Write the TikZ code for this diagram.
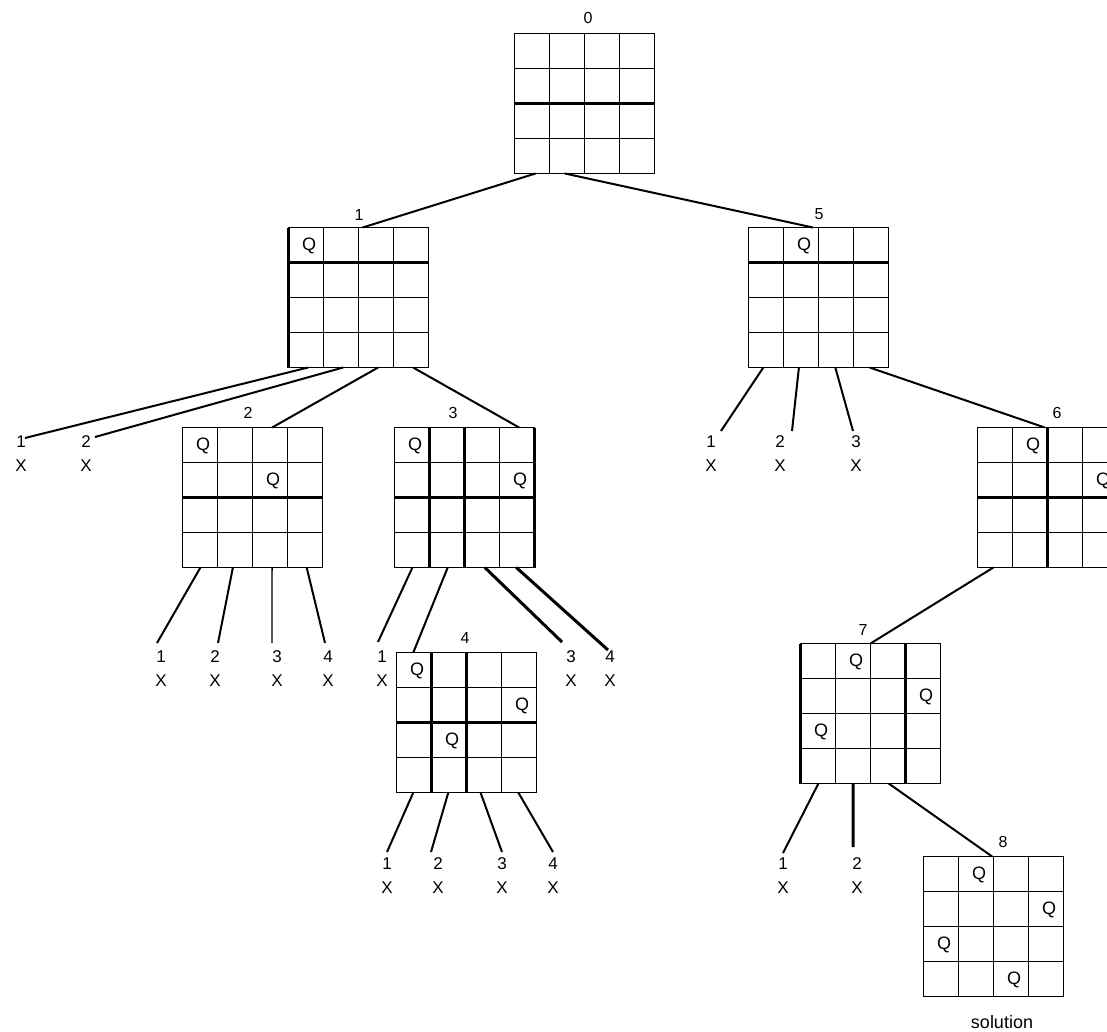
\documentclass[tikz,border=0pt]{standalone}
\usepackage{fontspec}
\setmainfont{Liberation Sans}
\usetikzlibrary{calc}
\tikzset{
  board/.style={draw, line width=1.3pt, minimum width=140pt, minimum height=140pt, inner sep=0pt, outer sep=0pt},
  gridline/.style={line width=1.3pt},
  thickgrid/.style={line width=3pt},
  conn/.style={line width=2pt},
  connthick/.style={line width=3pt},
  lbl/.style={font=\fontsize{16}{18}\selectfont, inner sep=0pt},
  qtext/.style={font=\fontsize{18}{20}\selectfont, inner sep=0pt},
  leaf/.style={font=\fontsize{17}{24}\selectfont, inner sep=0pt, align=center},
}
\newcommand\mkboard[3]{%
  \node[board] (#1) at (#2,#3) {};
  \foreach \i in {1,2,3}{
    \draw[gridline] ($(#1.north west)!{\i/4}!(#1.north east)$) -- ($(#1.south west)!{\i/4}!(#1.south east)$);
    \draw[gridline] ($(#1.north west)!{\i/4}!(#1.south west)$) -- ($(#1.north east)!{\i/4}!(#1.south east)$);
  }%
}
\newcommand\vthick[2]{\draw[thickgrid] ($(#1.north west)!{#2/4}!(#1.north east)$) -- ($(#1.south west)!{#2/4}!(#1.south east)$);}
\newcommand\hthick[2]{\draw[thickgrid] ($(#1.north west)!{#2/4}!(#1.south west)$) -- ($(#1.north east)!{#2/4}!(#1.south east)$);}
\newcommand\qn[3]{\node[qtext] (#1q#2#3) at ($(#1.north west)+({(#3-0.5)*35+3},{(#2-0.5)*35+1})$) {Q};}
\newcommand\bpt[2]{($(#1.south west)!#2!(#1.south east)$)}
\newcommand\tpt[2]{($(#1.north west)!#2!(#1.north east)$)}
\begin{document}
\begin{tikzpicture}[x=1pt, y=-1pt]
\useasboundingbox (0,0) rectangle (1107,1031);
\clip (0,0) rectangle (1107,1031);
\fill[white] (0,0) rectangle (1107,1031);

% boards
\mkboard{b0}{584.5}{103.5}
\mkboard{b1}{358.5}{297.5}
\mkboard{b5}{818.5}{297.5}
\mkboard{b2}{252.5}{497.5}
\mkboard{b3}{464.5}{497.5}
\mkboard{b4}{466.5}{722.5}
\mkboard{b6}{1047.5}{497.5}
\mkboard{b7}{870.5}{713.5}
\mkboard{b8}{993.5}{926.5}

% thick lines
\hthick{b0}{2}
\vthick{b1}{0}\hthick{b1}{1}
\hthick{b5}{1}
\hthick{b2}{2}
\vthick{b3}{1}\vthick{b3}{2}\vthick{b3}{4}\hthick{b3}{2}
\vthick{b4}{1}\vthick{b4}{2}\hthick{b4}{2}
\vthick{b6}{2}\hthick{b6}{2}
\vthick{b7}{0}\vthick{b7}{3}

% queens
\qn{b1}{1}{1}
\qn{b5}{1}{2}
\qn{b2}{1}{1}\qn{b2}{2}{3}
\qn{b3}{1}{1}\qn{b3}{2}{4}
\qn{b4}{1}{1}\qn{b4}{2}{4}\qn{b4}{3}{2}
\qn{b6}{1}{2}\qn{b6}{2}{4}
\qn{b7}{1}{2}\qn{b7}{2}{4}\qn{b7}{3}{1}
\qn{b8}{1}{2}\qn{b8}{2}{4}\qn{b8}{3}{1}\qn{b8}{4}{3}

% board labels
\node[lbl] (l0) at (588,18) {0};
\node[lbl] (l1) at (359,215) {1};
\node[lbl] (l5) at (819,214) {5};
\node[lbl] (l2) at (248,413) {2};
\node[lbl] (l3) at (453,413) {3};
\node[lbl] (l4) at (465,638) {4};
\node[lbl] (l6) at (1057,413) {6};
\node[lbl] (l7) at (863,630) {7};
\node[lbl] (l8) at (1003,842) {8};
\node[font=\fontsize{18}{20}\selectfont, inner sep=0pt] (sol) at (1002,1022.5) {solution};

% leaves
\node[leaf] (x11) at (21,454) {1\\X};
\node[leaf] (x12) at (86,454) {2\\X};
\node[leaf] (x51) at (711,454) {1\\X};
\node[leaf] (x52) at (780,454) {2\\X};
\node[leaf] (x53) at (856,454) {3\\X};
\node[leaf] (x21) at (161,669) {1\\X};
\node[leaf] (x22) at (215,669) {2\\X};
\node[leaf] (x23) at (277,669) {3\\X};
\node[leaf] (x24) at (328,669) {4\\X};
\node[leaf] (x31) at (382,669) {1\\X};
\node[leaf] (x33) at (571,669) {3\\X};
\node[leaf] (x34) at (610,669) {4\\X};
\node[leaf] (x41) at (387,876) {1\\X};
\node[leaf] (x42) at (438,876) {2\\X};
\node[leaf] (x43) at (502,876) {3\\X};
\node[leaf] (x44) at (553,876) {4\\X};
\node[leaf] (x71) at (783,876) {1\\X};
\node[leaf] (x72) at (857,876) {2\\X};

% connector free ends
\coordinate (e11) at (25,438);
\coordinate (e12) at (95,437);
\coordinate (e51) at (721,431);
\coordinate (e52) at (792,431);
\coordinate (e53) at (853,431);
\coordinate (e21) at (157,643);
\coordinate (e22) at (218,643);
\coordinate (e23) at (272,643);
\coordinate (e24) at (325,643);
\coordinate (e31) at (378,642);
\coordinate (e33) at (562,642);
\coordinate (e34) at (608,650);
\coordinate (e41) at (387,852);
\coordinate (e42) at (431,852);
\coordinate (e43) at (502,852);
\coordinate (e44) at (553,852);
\coordinate (e71) at (783,853);
\coordinate (e72) at (853,847);

% connectors
\draw[conn] \bpt{b0}{0.15} -- \tpt{b1}{0.53};
\draw[conn] \bpt{b0}{0.36} -- \tpt{b5}{0.46};
\draw[conn] \bpt{b1}{0.14} -- (e11);
\draw[conn] \bpt{b1}{0.39} -- (e12);
\draw[conn] \bpt{b1}{0.64} -- \tpt{b2}{0.64};
\draw[conn] \bpt{b1}{0.89} -- \tpt{b3}{0.89};
\draw[conn] \bpt{b5}{0.106} -- (e51);
\draw[conn] \bpt{b5}{0.36} -- (e52);
\draw[conn] \bpt{b5}{0.62} -- (e53);
\draw[conn] \bpt{b5}{0.865} -- \tpt{b6}{0.48};
\draw[conn] \bpt{b2}{0.128} -- (e21);
\draw[conn] \bpt{b2}{0.36} -- (e22);
\draw[gridline] \bpt{b2}{0.64} -- (e23);
\draw[conn] \bpt{b2}{0.887} -- (e24);
\draw[conn] \bpt{b3}{0.128} -- (e31);
\draw[conn] \bpt{b3}{0.38} -- \tpt{b4}{0.12};
\draw[connthick] \bpt{b3}{0.645} -- (e33);
\draw[connthick] \bpt{b3}{0.87} -- (e34);
\draw[conn] \bpt{b4}{0.12} -- (e41);
\draw[conn] \bpt{b4}{0.37} -- (e42);
\draw[conn] \bpt{b4}{0.6} -- (e43);
\draw[conn] \bpt{b4}{0.87} -- (e44);
\draw[conn] \bpt{b6}{0.113} -- \tpt{b7}{0.5};
\draw[conn] \bpt{b7}{0.128} -- (e71);
\draw[connthick] \bpt{b7}{0.376} -- (e72);
\draw[conn] \bpt{b7}{0.63} -- \tpt{b8}{0.49};
\end{tikzpicture}
\end{document}
